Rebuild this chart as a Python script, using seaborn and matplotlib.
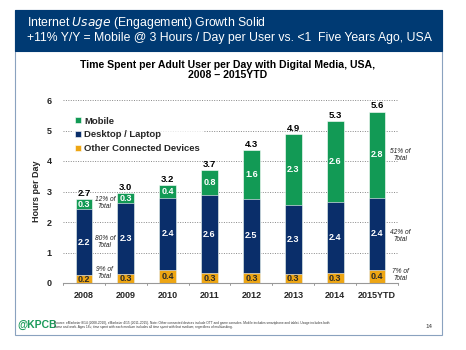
import matplotlib
matplotlib.use("Agg")
import matplotlib.pyplot as plt
import seaborn as sns
import pandas as pd
import numpy as np
from matplotlib.patches import Rectangle

years = ["2008", "2009", "2010", "2011", "2012", "2013", "2014", "2015YTD"]
other = [0.2, 0.3, 0.4, 0.3, 0.3, 0.3, 0.3, 0.4]
desktop = [2.2, 2.3, 2.4, 2.6, 2.5, 2.3, 2.4, 2.4]
mobile = [0.3, 0.3, 0.4, 0.8, 1.6, 2.3, 2.6, 2.8]
totals = [2.7, 3.0, 3.2, 3.7, 4.3, 4.9, 5.3, 5.6]
# plotted segment heights (visual)
other_h = [0.25, 0.28, 0.42, 0.32, 0.32, 0.3, 0.32, 0.42]
desktop_h = [2.18, 2.33, 2.38, 2.55, 2.45, 2.27, 2.35, 2.38]
mobile_h = [0.32, 0.34, 0.4, 0.83, 1.58, 2.3, 2.63, 2.82]

C_MOB = "#129a55"
C_DESK = "#0a2e6a"
C_OTH = "#eea613"
C_HEAD = "#003a73"

sns.set_theme(style="white")
plt.rcParams["font.family"] = ["Liberation Sans", "DejaVu Sans"]

fig = plt.figure(figsize=(4.66, 3.5), dpi=100)
fig.patch.set_facecolor("white")

# slide frame
fig.patches.append(Rectangle((15/466, 1-335/350), (442-15)/466, (335-10)/350,
                             transform=fig.transFigure, fill=False,
                             edgecolor="#8aa2bf", lw=0.8))
fig.patches.append(Rectangle((15/466, 1-51/350), (442-15)/466, (51-10)/350,
                             transform=fig.transFigure, facecolor=C_HEAD,
                             edgecolor=C_HEAD, lw=0.8))
fig.text(27/466, 1-23/350, "Internet $\\it{Usage}$ (Engagement) Growth Solid",
         color="white", fontsize=8.85, va="center", ha="left")
fig.text(27/466, 1-38/350,
         "+11% Y/Y = Mobile @ 3 Hours / Day per User vs. <1  Five Years Ago, USA",
         color="white", fontsize=8.85, va="center", ha="left")
fig.text(228/466, 1-70/350,
         "Time Spent per Adult User per Day with Digital Media, USA,\n2008 \u2013 2015YTD",
         ha="center", va="center", fontsize=7.6, fontweight="bold",
         linespacing=1.0, color="black")

ax = fig.add_axes([63/466, 1-283/350, (398-63)/466, (283-100)/350])
df = pd.DataFrame({"year": years, "other": other_h, "desktop": desktop_h, "mobile": mobile_h})
df["od"] = df["other"] + df["desktop"]
df["all"] = df["od"] + df["mobile"]

sns.barplot(data=df, x="year", y="all", color=C_MOB, width=0.4, ax=ax,
            saturation=1, label="Mobile", edgecolor="white", linewidth=0.4)
sns.barplot(data=df, x="year", y="od", color=C_DESK, width=0.4, ax=ax,
            saturation=1, label="Desktop / Laptop", edgecolor="white", linewidth=0.4)
sns.barplot(data=df, x="year", y="other", color=C_OTH, width=0.4, ax=ax,
            saturation=1, label="Other Connected Devices", edgecolor="white", linewidth=0.4)

ax.set_xlim(-0.5, 7.5)
ax.set_ylim(0, 6)
ax.set_yticks(range(0, 7))
ax.set_yticklabels([str(i) for i in range(7)], fontsize=6.5, fontweight="bold")
ax.set_xticks(range(len(years)))
ax.set_xticklabels(years, fontsize=6.5, fontweight="bold")
ax.set_xlabel("")
ax.set_ylabel("Hours per Day", fontsize=6.5, fontweight="bold", labelpad=4)
ax.tick_params(axis="y", length=0, pad=8)
ax.tick_params(axis="x", length=0, pad=6)
for s in ["top", "right", "left"]:
    ax.spines[s].set_visible(False)
ax.spines["bottom"].set_color("#999999")
ax.spines["bottom"].set_linewidth(0.8)
for xb in np.arange(-0.5, 8, 1):
    ax.plot([xb, xb], [0, -0.06], color="#999999", lw=0.7, clip_on=False)
for yv in range(1, 7):
    ax.axhline(yv, color="#888888", lw=0.7, ls=(0, (1, 1.5)), zorder=0)
ax.set_axisbelow(True)

for i in range(len(years)):
    ax.text(i, other_h[i] / 2, f"{other[i]:.1f}", ha="center", va="center",
            fontsize=6.5, fontweight="bold", color="#2a2a2a")
    ax.text(i, other_h[i] + desktop_h[i] / 2, f"{desktop[i]:.1f}", ha="center",
            va="center", fontsize=6.5, fontweight="bold", color="white")
    ax.text(i, df["od"][i] + mobile_h[i] / 2, f"{mobile[i]:.1f}", ha="center",
            va="center", fontsize=6.5, fontweight="bold", color="white")
    ax.text(i, df["all"][i] + 0.04, f"{totals[i]:.1f}", ha="center", va="bottom",
            fontsize=6.8, fontweight="bold", color="black", clip_on=False)

notes_left = [(2.62, "12% of\nTotal"), (1.34, "80% of\nTotal"), (0.33, "9% of\nTotal")]
notes_right = [(4.2, "51% of\nTotal"), (1.54, "42% of\nTotal"), (0.26, "7% of\nTotal")]
for y, t in notes_left:
    ax.text(0.5, y, t, ha="center", va="center", fontsize=4.8, style="italic",
            color="#222222", linespacing=1.1)
for y, t in notes_right:
    ax.text(7.55, y, t, ha="center", va="center", fontsize=4.8, style="italic",
            color="#222222", linespacing=1.1, clip_on=False)

leg = ax.legend(loc="upper left", bbox_to_anchor=(0.03, 0.92), frameon=True,
                fontsize=6.8, handlelength=0.6, handleheight=0.6,
                handletextpad=0.4, labelspacing=0.5, borderpad=0.2,
                borderaxespad=0)
leg.get_frame().set_facecolor("white")
leg.get_frame().set_edgecolor("white")
for t in leg.get_texts():
    t.set_fontweight("bold")

fig.text(17/466, 1-325/350, "@KPCB", color="#1a9a5a", fontsize=7.5,
         fontweight="bold", va="center", ha="left")
fig.text(54/466, 1-325/350,
         "Source: eMarketer 8/14 (2008-2010), eMarketer 4/15 (2011-2015). Note: Other connected devices include OTT and game consoles. Mobile includes smartphone and tablet. Usage includes both\n"
         "home and work. Ages 18+; time spent with each medium includes all time spent with that medium, regardless of multitasking.",
         fontsize=2.3, va="center", ha="left", color="#333333", linespacing=1.2)
fig.text(432/466, 1-326/350, "14", fontsize=4.5, va="center", ha="right", color="#333333")

fig.savefig("out.png", dpi=100)
